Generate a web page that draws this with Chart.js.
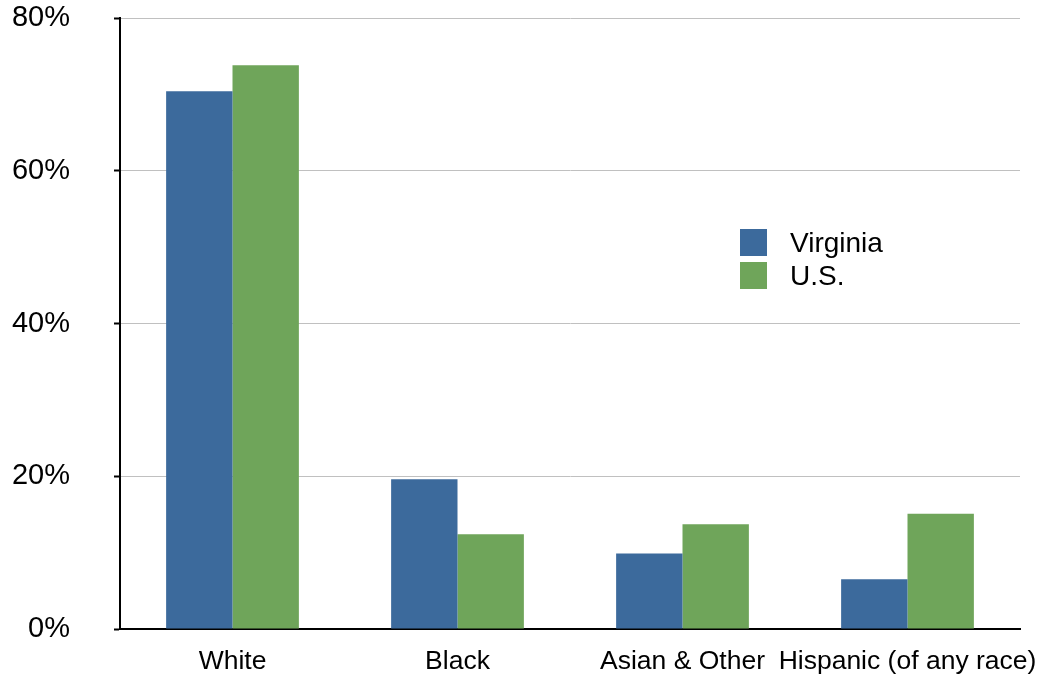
<!DOCTYPE html>
<html>
<head>
<meta charset="utf-8">
<script src="https://cdn.jsdelivr.net/npm/chart.js@4"></script>
<style>
  html, body { margin: 0; padding: 0; background: #fff; overflow: hidden; }
  #wrap { position: relative; width: 1039px; height: 675px; }
</style>
</head>
<body>
<div id="wrap"><canvas id="grafico"></canvas></div>
<script>
const categorias = ["White", "Black", "Asian & Other", "Hispanic (of any race)"];
const virginia = [70.4, 19.6, 9.9, 6.5];
const eeuu = [73.8, 12.4, 13.7, 15.1];
const ticksY = [0, 20, 40, 60, 80];

const azul = "#3c6a9c";
const verde = "#6fa55a";
const fuente = "'Liberation Sans', Arial, sans-serif";

// leyenda dibujada a mano dentro del area del grafico
const leyendaPlugin = {
    id: "leyendaManual",
    afterDraw(chart) {
        const ctx = chart.ctx;
        ctx.save();
        ctx.font = "28px " + fuente;
        ctx.textBaseline = "middle";
        chart.data.datasets.forEach((ds, i) => {
            const y = 229 + i * 33;
            ctx.fillStyle = ds.backgroundColor;
            ctx.fillRect(740, y, 27, 27);
            ctx.fillStyle = "#000";
            ctx.fillText(ds.label, 790, y + 15);
        });
        ctx.restore();
    },
};

const sinPadding = (scale) => {
    scale.paddingTop = 0;
    scale.paddingBottom = 0;
    scale.paddingLeft = 0;
    scale.paddingRight = 0;
};

const dataGrafico = {
    labels: categorias,
    datasets: [
        {
            label: "Virginia",
            backgroundColor: azul,
            data: virginia,
        },
        {
            label: "U.S.",
            backgroundColor: verde,
            data: eeuu,
        },
    ],
};

const configGrafico = {
    type: "bar",
    data: dataGrafico,
    options: {
        responsive: true,
        maintainAspectRatio: false,
        animation: false,
        layout: {
            padding: { top: 18, right: 19, left: 0, bottom: 0 },
        },
        datasets: {
            bar: {
                categoryPercentage: 0.59,
                barPercentage: 1,
            },
        },
        plugins: {
            legend: { display: false },
            tooltip: { enabled: false },
        },
        scales: {
            x: {
                grid: { display: false, drawTicks: false },
                border: { color: "#000", width: 2 },
                ticks: {
                    color: "#000",
                    padding: 17,
                    maxRotation: 0,
                    autoSkip: false,
                    font: { size: 26.5, family: fuente },
                },
                afterFit: (scale) => {
                    scale.height = 46;
                    sinPadding(scale);
                },
            },
            y: {
                min: 0,
                max: 80,
                afterBuildTicks: (scale) => {
                    scale.ticks = ticksY.map((v) => ({ value: v }));
                },
                grid: {
                    color: "#c0c0c0",
                    lineWidth: 1,
                    tickColor: "#000",
                    tickLength: 6,
                    tickWidth: 2,
                },
                border: { color: "#000", width: 2 },
                ticks: {
                    color: "#000",
                    padding: 44,
                    callback: (v) => v + "%",
                    font: { size: 29, family: fuente },
                },
                afterFit: (scale) => {
                    scale.width = 120;
                    sinPadding(scale);
                },
            },
        },
    },
    plugins: [leyendaPlugin],
};

const grafico = new Chart(document.getElementById("grafico"), configGrafico);
</script>
</body>
</html>
